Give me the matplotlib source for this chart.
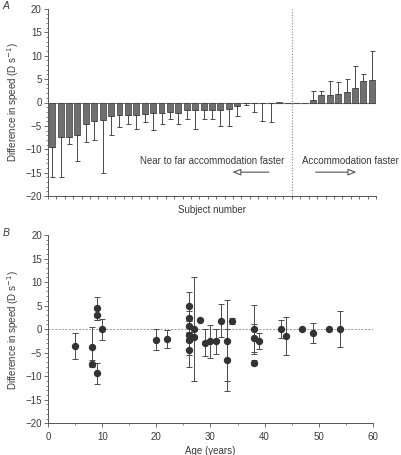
import numpy as np
import matplotlib
matplotlib.use("Agg")
import matplotlib.pyplot as plt
from matplotlib.ticker import MultipleLocator

plt.rcParams['font.family'] = ['Liberation Sans', 'DejaVu Sans']

# Panel A: difference in speed per subject (sorted), one-sided SD
subj_diff = [-9.6, -7.4, -7.4, -6.9, -4.6, -3.9, -3.7, -2.9, -2.7, -2.6,
             -2.7, -2.4, -2.3, -2.2, -2.1, -2.2, -1.7, -1.7, -1.6, -1.6,
             -1.5, -1.4, -0.8, -0.2, -0.05, -0.05, -0.05, 0.2, 0.0, 0.0,
             0.0, 0.5, 1.6, 1.6, 1.8, 2.2, 3.1, 4.5, 4.9]
subj_sd = [6.4, 8.6, 1.5, 5.6, 3.9, 4.2, 11.3, 4.0, 2.6, 2.0,
           2.9, 1.7, 3.6, 2.4, 1.5, 2.4, 1.8, 3.9, 1.9, 2.0,
           3.5, 3.6, 2.1, 0.4, 2.0, 3.9, 4.2, 0.0, 0.0, 0.0,
           0.0, 1.9, 0.8, 3.0, 2.5, 2.8, 4.8, 1.5, 6.1]

# Panel B: difference in speed vs age
age = [5, 8, 8, 9, 9, 9, 10, 20, 22,
       26, 26, 26, 26, 26, 26, 27, 27, 28, 29, 30, 31, 32,
       33, 33, 34, 38, 38, 38, 39, 43, 44, 47, 49, 52, 54]
age_diff = [-3.6, -3.7, -7.3, 4.4, 3.1, -9.4, 0.0, -2.2, -2.1,
            4.9, 2.3, 0.6, -1.3, -2.3, -4.4, 0.0, -1.7, 2.0, -2.9, -2.6, -2.6, 1.8,
            -2.5, -6.6, 1.8, 0.0, -1.8, -7.1, -2.5, 0.0, -1.5, 0.0, -0.85, 0.0, 0.0]
age_sd = [2.75, 4.2, 0.7, 2.4, 1.2, 2.2, 2.2, 2.2, 1.9,
          2.9, 1.5, 1.2, 1.5, 3.1, 3.6, 11.1, 0.0, 0.0, 2.85, 3.5, 2.6, 3.5,
          8.6, 6.6, 0.65, 5.2, 3.0, 0.45, 1.7, 1.9, 4.0, 0.0, 2.1, 0.0, 3.8]

W, H = 402, 455
fig = plt.figure(figsize=(W / 100, H / 100), dpi=100)

txt = '#3a3a3a'
axc = '#555555'
fs = 7.0


def style(ax):
    for s in ['top', 'right']:
        ax.spines[s].set_visible(False)
    for s in ['left', 'bottom']:
        ax.spines[s].set_color(axc)
        ax.spines[s].set_linewidth(0.7)
    ax.tick_params(which='major', direction='out', length=3, width=0.6,
                   color=axc, labelcolor=txt, labelsize=fs, pad=1.5)
    ax.tick_params(which='minor', direction='out', length=1.5, width=0.5, color=axc)
    ax.set_ylim(-20, 20)
    ax.yaxis.set_major_locator(MultipleLocator(5))
    ax.yaxis.set_minor_locator(MultipleLocator(1))


# ---- Panel A ----
axA = fig.add_axes([48 / W, 1 - 196 / H, 328 / W, 187 / H])
style(axA)
n = len(subj_diff)
x = np.arange(n) + 0.5
vals = np.array(subj_diff)
sd = np.array(subj_sd)
axA.bar(x, vals, width=0.7, color='#6f6f6f', edgecolor='#3c3c3c', linewidth=0.5, zorder=3)
m = sd > 0
lower = np.where(vals < 0, sd, 0)
upper = np.where(vals > 0, sd, 0)
axA.errorbar(x[m], vals[m], yerr=[lower[m], upper[m]], fmt='none', ecolor='#4a4a4a',
             elinewidth=0.7, capsize=1.8, capthick=0.7, zorder=2)
axA.axhline(0, color='#777777', lw=0.8, zorder=1)
axA.axvline(29, color='#888888', lw=0.8, ls=(0, (1, 1.5)), zorder=1)
axA.set_xlim(0, n)
axA.set_xticks(np.arange(0, n + 1))
axA.set_xticklabels([])
axA.tick_params(axis='x', length=2)
axA.set_xlabel('Subject number', fontsize=fs, color=txt, labelpad=3)

axA.text(19.5, -12.6, 'Near to far accommodation faster', fontsize=fs, color=txt,
         ha='center', va='center')
axA.text(30.2, -12.6, 'Accommodation faster', fontsize=fs, color=txt,
         ha='left', va='center', clip_on=False)
arrow = dict(arrowstyle='-|>,head_length=0.5,head_width=0.2', fc='white', ec='#555555', lw=0.8)
axA.annotate('', xy=(21.6, -14.9), xytext=(26.6, -14.9), arrowprops=arrow)
axA.annotate('', xy=(37.0, -14.9), xytext=(31.5, -14.9), arrowprops=arrow)

# ---- Panel B ----
axB = fig.add_axes([48.3 / W, 1 - 423.3 / H, 324.4 / W, 188.3 / H])
style(axB)
axB.axhline(0, color='#999999', lw=0.7, ls=(0, (2, 1.5)), zorder=1)
a = np.array(age, dtype=float)
d = np.array(age_diff)
s = np.array(age_sd)
mb = s > 0
axB.errorbar(a[mb], d[mb], yerr=s[mb], fmt='none', ecolor='#4a4a4a',
             elinewidth=0.7, capsize=2.2, capthick=0.7, zorder=2)
axB.plot(a, d, 'o', color='#333333', ms=4.3, zorder=3)
axB.set_xlim(0, 60)
axB.xaxis.set_major_locator(MultipleLocator(10))
axB.xaxis.set_minor_locator(MultipleLocator(5))
axB.tick_params(axis='x', pad=3)
axB.set_xlabel('Age (years)', fontsize=fs, color=txt, labelpad=3)

ylab = 'Difference in speed (D s$^{-1}$)'
fig.text(13 / W, 1 - 102.5 / H, ylab, rotation=90, ha='center', va='center',
         fontsize=fs, color=txt)
fig.text(13 / W, 1 - 329.7 / H, ylab, rotation=90, ha='center', va='center',
         fontsize=fs, color=txt)

fig.text(3 / W, 1 - 6 / H, 'A', fontsize=7.5, style='italic', color=txt, ha='left', va='center')
fig.text(3 / W, 1 - 233 / H, 'B', fontsize=7.5, style='italic', color=txt, ha='left', va='center')

fig.savefig('out.png', dpi=100)
